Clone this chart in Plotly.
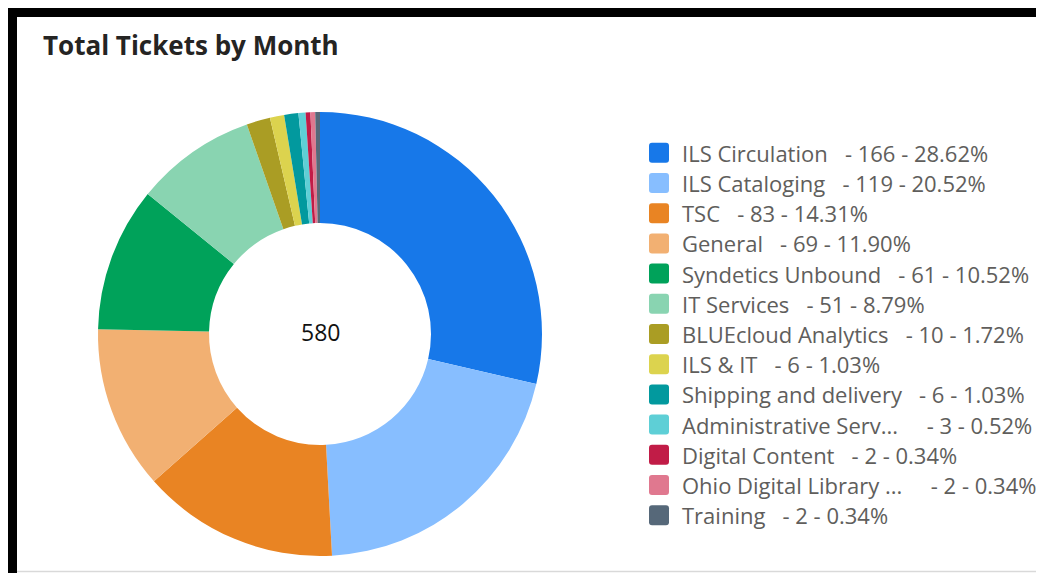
import plotly.graph_objects as go

# page body has an 8px margin, so the figure starts at (8, 8) in the window
OFF = 8
W, H = 1044 - OFF, 573 - OFF

categories = ["ILS Circulation", "ILS Cataloging", "TSC", "General", "Syndetics Unbound",
              "IT Services", "BLUEcloud Analytics", "ILS & IT", "Shipping and delivery",
              "Administrative Serv...", "Digital Content", "Ohio Digital Library ...", "Training"]
values = [166, 119, 83, 69, 61, 51, 10, 6, 6, 3, 2, 2, 2]
colors = ["#1778E9", "#87BEFF", "#E98423", "#F2B072", "#00A25A", "#89D4B1", "#AA9D24",
          "#DCD34E", "#02999E", "#5ECFD6", "#C11C47", "#E0788F", "#566879"]
title_text = "Total Tickets by Month"

total = sum(values)

def px_x(x):
    return (x - OFF) / W

def px_y(y):
    return 1 - (y - OFF) / H

# donut placement (window pixels)
cx, cy, r = 320, 334, 222

fig = go.Figure(go.Pie(
    labels=categories, values=values, hole=0.5, sort=False, direction="clockwise",
    rotation=0, marker=dict(colors=colors, line=dict(width=0)), textinfo="none",
    showlegend=False, hoverinfo="label+value+percent",
    domain=dict(x=[px_x(cx - r), px_x(cx + r)], y=[px_y(cy + r), px_y(cy - r)]),
))

shapes = []
annotations = []

# frame
shapes.append(dict(type="rect", xref="paper", yref="paper", x0=0, x1=1, y0=px_y(17), y1=1,
                   fillcolor="black", line=dict(width=0), layer="above"))
shapes.append(dict(type="rect", xref="paper", yref="paper", x0=0, x1=px_x(17), y0=0, y1=1,
                   fillcolor="black", line=dict(width=0), layer="above"))
shapes.append(dict(type="line", xref="paper", yref="paper", x0=px_x(17), x1=1, y0=px_y(571.5), y1=px_y(571.5),
                   line=dict(color="#D9D9D9", width=1.5)))

# title
annotations.append(dict(text=title_text, xref="paper", yref="paper",
                        x=px_x(41), y=px_y(45), xanchor="left", yanchor="middle", showarrow=False,
                        font=dict(family="Open Sans", size=26, color="#252423", weight=700)))
# center total
annotations.append(dict(text=str(total), xref="paper", yref="paper", x=px_x(cx), y=px_y(332),
                        xanchor="center", yanchor="middle", showarrow=False,
                        font=dict(family="Open Sans", size=23, color="#111111")))

# legend
y0, dy = 152.8, 30.2
sq = 20
rad = 3
for i, (lab, v, c) in enumerate(zip(categories, values, colors)):
    yc = y0 + i * dy
    x0p, x1p = 649, 649 + sq
    t, b = yc - sq / 2, yc + sq / 2

    def P(x, y):
        return f"{px_x(x):.6f},{px_y(y):.6f}"
    path = (f"M{P(x0p + rad, t)} L{P(x1p - rad, t)} Q{P(x1p, t)} {P(x1p, t + rad)} "
            f"L{P(x1p, b - rad)} Q{P(x1p, b)} {P(x1p - rad, b)} L{P(x0p + rad, b)} "
            f"Q{P(x0p, b)} {P(x0p, b - rad)} L{P(x0p, t + rad)} Q{P(x0p, t)} {P(x0p + rad, t)} Z")
    shapes.append(dict(type="path", xref="paper", yref="paper", path=path, fillcolor=c,
                       line=dict(width=0)))
    pct = v / total * 100
    gap = "\u00a0" * (4 if lab.endswith("...") else 2)
    txt = f"{lab}{gap} - {v} - {pct:.2f}%"
    annotations.append(dict(text=txt, xref="paper", yref="paper", x=px_x(680), y=px_y(yc),
                            xanchor="left", yanchor="middle", showarrow=False,
                            font=dict(family="Open Sans", size=22, color="#605E5C")))

fig.update_layout(
    width=W, height=H, margin=dict(l=0, r=0, t=0, b=0),
    paper_bgcolor="white", plot_bgcolor="white",
    shapes=shapes, annotations=annotations, showlegend=False,
)

fig.write_html("out.html")
